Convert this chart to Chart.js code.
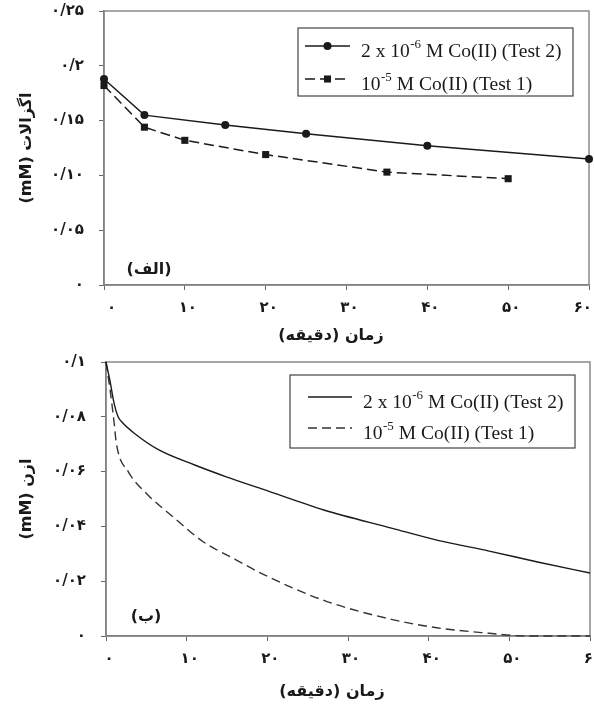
<!DOCTYPE html>
<html>
<head>
<meta charset="utf-8">
<script src="https://cdn.jsdelivr.net/npm/chart.js@4.4.0/dist/chart.umd.min.js"></script>
<style>
  html, body { margin: 0; padding: 0; background: #fff; }
  #wrap { position: relative; width: 594px; height: 706px; }
  .box { position: absolute; left: 0; width: 594px; }
</style>
</head>
<body>
<div id="wrap">
  <div class="box" style="top:0;height:350px"><canvas id="oxalateChart" dir="rtl" width="594" height="350"></canvas></div>
  <div class="box" style="top:350px;height:356px"><canvas id="ozoneChart" dir="rtl" width="594" height="356"></canvas></div>
</div>
<script>
// tick labels (Persian digits, as printed)
const xTickLabels = ['۰', '۱۰', '۲۰', '۳۰', '۴۰', '۵۰', '۶۰'];
const oxalateTickLabels = ['۰', '۰/۰۵', '۰/۱۰', '۰/۱۵', '۰/۲', '۰/۲۵'];
const ozoneTickLabels = ['۰', '۰/۰۲', '۰/۰۴', '۰/۰۶', '۰/۰۸', '۰/۱'];

// (الف) oxalate, measured points
const oxalateTest2X = [0, 5, 15, 25, 40, 60];
const oxalateTest2Y = [0.188, 0.155, 0.146, 0.138, 0.127, 0.115];
const oxalateTest1X = [0, 5, 10, 20, 35, 50];
const oxalateTest1Y = [0.182, 0.144, 0.132, 0.119, 0.103, 0.097];

// (ب) ozone, continuous curves
const ozoneTest2X = [0, 0.5, 1, 1.5, 2, 3.5, 6.5, 11, 15, 19.5, 27, 35.5, 41, 47.5, 53.5, 60];
const ozoneTest2Y = [0.1, 0.093, 0.085, 0.080, 0.078, 0.074, 0.068, 0.0624, 0.058, 0.0535, 0.046, 0.0393, 0.035, 0.031, 0.027, 0.023];
const ozoneTest1X = [0, 0.5, 1, 1.3, 2.75, 5.2, 8.5, 12, 16, 19.5, 27, 35.5, 41, 47.5, 52, 60];
const ozoneTest1Y = [0.1, 0.09, 0.078, 0.070, 0.060, 0.0515, 0.043, 0.0345, 0.028, 0.0225, 0.013, 0.006, 0.003, 0.001, 0, 0];

const seriesNames = [
  { base: '2 x 10', sup: '-6', rest: ' M Co(II) (Test 2)' },
  { base: '10', sup: '-5', rest: ' M Co(II) (Test 1)' }
];

const xTitle = 'زمان (دقیقه)';
const faFont = 'DejaVu Sans';
const ink = '#1a1a1a';

const toPoints = (xs, ys) => xs.map((x, i) => ({ x: x, y: ys[i] }));

// grey frame around the plot area
const framePlugin = {
  id: 'frame',
  beforeDatasetsDraw(chart) {
    const a = chart.chartArea;
    const ctx = chart.ctx;
    ctx.save();
    ctx.strokeStyle = '#8a8a8a';
    ctx.lineWidth = 1.5;
    ctx.strokeRect(a.left, a.top, a.right - a.left, a.bottom - a.top);
    ctx.restore();
  }
};

// boxed legend with superscripts, panel letter and x title
const boxLegendPlugin = {
  id: 'boxLegend',
  afterDraw(chart, args, opts) {
    const ctx = chart.ctx;
    ctx.save();
    ctx.direction = 'ltr';
    ctx.strokeStyle = '#444';
    ctx.lineWidth = 1.2;
    ctx.strokeRect(opts.x, opts.y, opts.w, opts.h);

    chart.data.datasets.forEach((ds, i) => {
      const ly = opts.rows[i];
      ctx.strokeStyle = ds.borderColor;
      ctx.lineWidth = ds.borderWidth;
      ctx.setLineDash(ds.borderDash || []);
      ctx.beginPath();
      ctx.moveTo(opts.lineX0, ly);
      ctx.lineTo(opts.lineX1, ly);
      ctx.stroke();
      ctx.setLineDash([]);
      if (ds.pointRadius > 0) {
        const cx = (opts.lineX0 + opts.lineX1) / 2;
        ctx.fillStyle = ds.pointBackgroundColor;
        if (ds.pointStyle === 'rect') {
          const s = ds.pointRadius * Math.SQRT1_2;
          ctx.fillRect(cx - s, ly - s, 2 * s, 2 * s);
        } else {
          ctx.beginPath();
          ctx.arc(cx, ly, ds.pointRadius, 0, Math.PI * 2);
          ctx.fill();
        }
      }
      const name = seriesNames[i];
      const base = ly + 11;
      let tx = opts.textX;
      ctx.fillStyle = ink;
      ctx.textAlign = 'left';
      ctx.textBaseline = 'alphabetic';
      ctx.font = '19.5px "Liberation Serif"';
      ctx.fillText(name.base, tx, base);
      tx += ctx.measureText(name.base).width + 0.5;
      ctx.font = '13px "Liberation Serif"';
      ctx.fillText(name.sup, tx, base - 9);
      tx += ctx.measureText(name.sup).width;
      ctx.font = '19.5px "Liberation Serif"';
      ctx.fillText(name.rest, tx, base);
    });

    ctx.direction = 'rtl';
    ctx.fillStyle = ink;
    ctx.textAlign = 'center';
    ctx.textBaseline = 'middle';
    ctx.font = 'bold 16px "' + faFont + '"';
    ctx.fillText(opts.panel, opts.panelX, opts.panelY);
    ctx.fillText(xTitle, opts.titleX, opts.titleY);
    ctx.restore();
  }
};

function xScale(height, align) {
  return {
    type: 'linear',
    min: 0,
    max: 60,
    border: { display: true, color: '#666', width: 1.5 },
    grid: { drawOnChartArea: false, drawTicks: true, tickLength: 5, color: '#666' },
    ticks: {
      stepSize: 10,
      padding: 9,
      labelOffset: 3,
      align: align,
      maxRotation: 0,
      color: ink,
      font: { family: faFont, weight: 'bold', size: 15 },
      callback: (v) => xTickLabels[Math.round(v / 10)]
    },
    title: { display: false },
    afterFit(s) { s.height = height; s.paddingLeft = 0; s.paddingRight = 0; }
  };
}

function yScale(max, step, labels, title, width) {
  return {
    type: 'linear',
    min: 0,
    max: max,
    border: { display: true, color: '#666', width: 1.5 },
    grid: { drawOnChartArea: false, drawTicks: true, tickLength: 5, color: '#666' },
    ticks: {
      stepSize: step,
      padding: 15,
      color: ink,
      font: { family: faFont, weight: 'bold', size: 15 },
      callback: (v) => labels[Math.round(v / step)]
    },
    title: {
      display: true,
      text: title,
      color: ink,
      font: { family: faFont, weight: 'bold', size: 16 },
      padding: { top: 17, bottom: 0 }
    },
    afterFit(s) { s.width = width; s.paddingTop = 0; s.paddingBottom = 0; }
  };
}

// (الف) oxalate chart
const oxCtx = document.getElementById('oxalateChart').getContext('2d');
const oxalateChart = new Chart(oxCtx, {
  type: 'line',
  data: {
    datasets: [{
      label: 'Test 2',
      data: toPoints(oxalateTest2X, oxalateTest2Y),
      borderColor: ink,
      borderWidth: 1.5,
      pointStyle: 'circle',
      pointRadius: 4,
      pointBackgroundColor: ink,
      pointBorderWidth: 0,
      tension: 0,
      clip: false
    }, {
      label: 'Test 1',
      data: toPoints(oxalateTest1X, oxalateTest1Y),
      borderColor: ink,
      borderWidth: 1.5,
      borderDash: [10, 5],
      pointStyle: 'rect',
      pointRadius: 5,
      pointBackgroundColor: ink,
      pointBorderWidth: 0,
      tension: 0,
      clip: false
    }]
  },
  options: {
    responsive: false,
    animation: false,
    layout: { padding: { top: 11, right: 4, left: 0, bottom: 0 } },
    plugins: {
      legend: { display: false },
      tooltip: { enabled: false },
      boxLegend: {
        x: 298, y: 28, w: 275, h: 68,
        rows: [46, 79], lineX0: 305, lineX1: 350, textX: 361,
        panel: '(الف)', panelX: 149, panelY: 270,
        titleX: 331, titleY: 336
      }
    },
    scales: {
      x: xScale(65, 'inner'),
      y: yScale(0.25, 0.05, oxalateTickLabels, 'اگزالات (mM)', 104)
    }
  },
  plugins: [framePlugin, boxLegendPlugin]
});

// (ب) ozone chart
const ozCtx = document.getElementById('ozoneChart').getContext('2d');
const ozoneChart = new Chart(ozCtx, {
  type: 'line',
  data: {
    datasets: [{
      label: 'Test 2',
      data: toPoints(ozoneTest2X, ozoneTest2Y),
      borderColor: ink,
      borderWidth: 1.4,
      pointRadius: 0,
      cubicInterpolationMode: 'monotone',
      clip: false
    }, {
      label: 'Test 1',
      data: toPoints(ozoneTest1X, ozoneTest1Y),
      borderColor: '#333',
      borderWidth: 1.4,
      borderDash: [9, 5],
      pointRadius: 0,
      cubicInterpolationMode: 'monotone',
      clip: false
    }]
  },
  options: {
    responsive: false,
    animation: false,
    layout: { padding: { top: 12, right: 4, left: 0, bottom: 0 } },
    plugins: {
      legend: { display: false },
      tooltip: { enabled: false },
      boxLegend: {
        x: 290, y: 25, w: 285, h: 73,
        rows: [47, 78], lineX0: 308, lineX1: 352, textX: 363,
        panel: '(ب)', panelX: 146, panelY: 267,
        titleX: 332, titleY: 342
      }
    },
    scales: {
      x: xScale(70, 'center'),
      y: yScale(0.1, 0.02, ozoneTickLabels, 'ازن (mM)', 106)
    }
  },
  plugins: [framePlugin, boxLegendPlugin]
});
</script>
</body>
</html>
